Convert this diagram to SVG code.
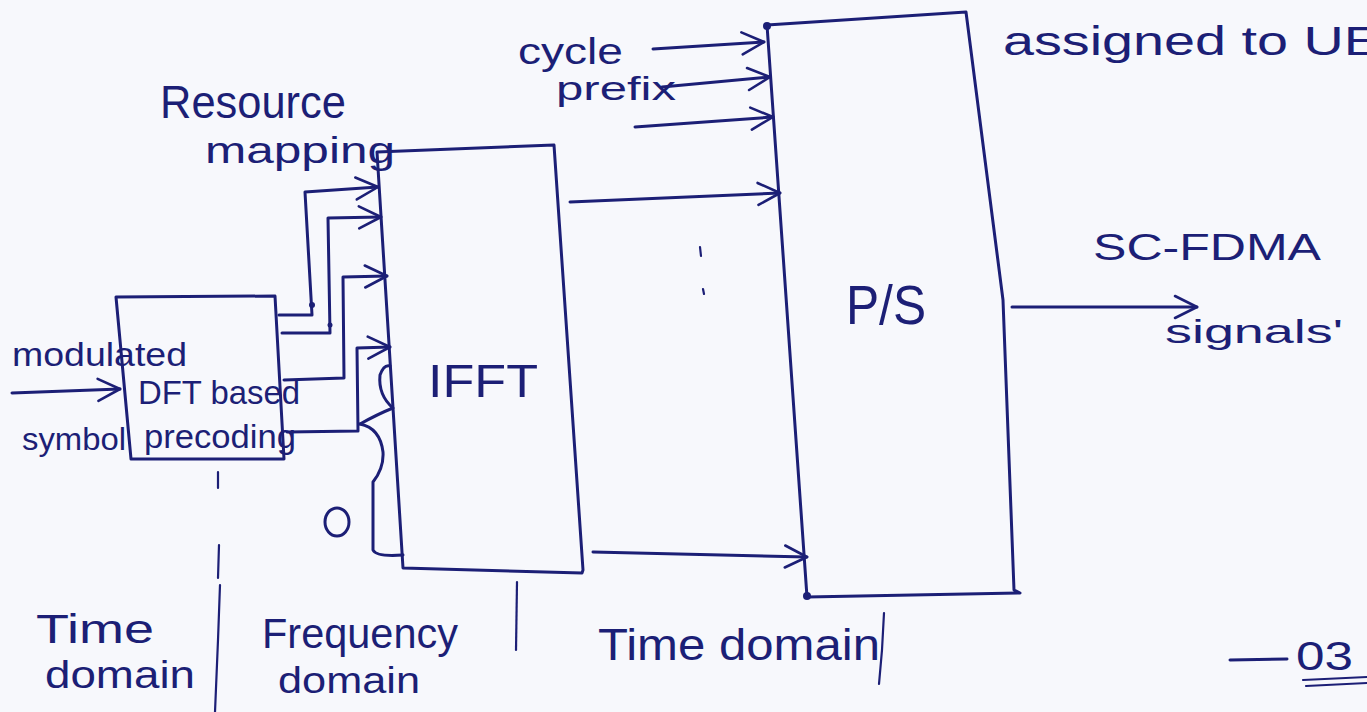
<svg xmlns="http://www.w3.org/2000/svg" width="1367" height="712" viewBox="0 0 1367 712">
<defs>
<style>
.ink{fill:none;stroke:#1c1f76;stroke-width:3;stroke-linecap:round;stroke-linejoin:round}
.thin{fill:none;stroke:#1c1f76;stroke-width:2.2;stroke-linecap:round}
.dot{fill:#1c1f76}
.t{fill:#1c1f76;font-family:"Liberation Sans","DejaVu Sans",sans-serif}
</style>
<marker id="arr" markerUnits="userSpaceOnUse" markerWidth="30" markerHeight="30" viewBox="0 0 30 30" refX="26" refY="15" orient="auto">
<path d="M4,4 L26,15 L4,26" fill="none" stroke="#1c1f76" stroke-width="2.6" stroke-linecap="round" stroke-linejoin="round"/>
</marker>
</defs>
<rect width="1367" height="712" fill="#f7f8fc"/>

<g id="dft">
<path class="ink" d="M116,297 L275,296 L284,459 L131,459 Z"/>
<text class="t" x="138" y="404" font-size="34" textLength="162" lengthAdjust="spacingAndGlyphs">DFT based</text>
<text class="t" x="144" y="448" font-size="33" textLength="152" lengthAdjust="spacingAndGlyphs">precoding</text>
</g>

<g id="ifft">
<path class="ink" d="M377,152 L554,145 L583,570 L582,573 L403,568 Z"/>
<text class="t" x="428" y="397" font-size="46" textLength="110" lengthAdjust="spacingAndGlyphs">IFFT</text>
</g>

<g id="ps">
<path class="ink" d="M767,25 L966,12 L1003,300 L1014,590 L1020,593 L807,597 Z"/>
<text class="t" x="846" y="324" font-size="56" textLength="80" lengthAdjust="spacingAndGlyphs">P/S</text>
</g>

<g id="labels">
<text class="t" x="160" y="118" font-size="46" textLength="186" lengthAdjust="spacingAndGlyphs">Resource</text>
<text class="t" x="205" y="163" font-size="36" textLength="190" lengthAdjust="spacingAndGlyphs">mapping</text>
<text class="t" x="518" y="64" font-size="36" textLength="105" lengthAdjust="spacingAndGlyphs">cycle</text>
<text class="t" x="556" y="100" font-size="34" textLength="120" lengthAdjust="spacingAndGlyphs">prefix</text>
<text class="t" x="1003" y="55" font-size="40" textLength="378" lengthAdjust="spacingAndGlyphs">assigned to UE</text>
<text class="t" x="1093" y="260" font-size="36" textLength="228" lengthAdjust="spacingAndGlyphs">SC-FDMA</text>
<text class="t" x="1165" y="343" font-size="34" textLength="178" lengthAdjust="spacingAndGlyphs">signals'</text>
<text class="t" x="12" y="366" font-size="34" textLength="175" lengthAdjust="spacingAndGlyphs">modulated</text>
<text class="t" x="22" y="450" font-size="32" textLength="104" lengthAdjust="spacingAndGlyphs">symbol</text>
<text class="t" x="36" y="643" font-size="40" textLength="118" lengthAdjust="spacingAndGlyphs">Time</text>
<text class="t" x="45" y="688" font-size="38" textLength="150" lengthAdjust="spacingAndGlyphs">domain</text>
<text class="t" x="262" y="648" font-size="42" textLength="196" lengthAdjust="spacingAndGlyphs">Frequency</text>
<text class="t" x="278" y="693" font-size="36" textLength="142" lengthAdjust="spacingAndGlyphs">domain</text>
<text class="t" x="598" y="660" font-size="44" textLength="282" lengthAdjust="spacingAndGlyphs">Time domain</text>
<text class="t" x="1296" y="670" font-size="40" textLength="57" lengthAdjust="spacingAndGlyphs">03</text>
<ellipse class="ink" cx="337" cy="522" rx="12" ry="14"/>
</g>

<g id="connectors">
<path class="ink" d="M12,393 L120,389" marker-end="url(#arr)"/>
<path class="ink" d="M279,315 L312,315 L305,192 L378,187" marker-end="url(#arr)"/>
<path class="ink" d="M282,333 L330,333 L328,218 L381,217" marker-end="url(#arr)"/>
<path class="ink" d="M284,380 L344,378 L343,277 L387,276" marker-end="url(#arr)"/>
<path class="ink" d="M287,432 L358,431 L357,348 L390,347" marker-end="url(#arr)"/>
<path class="ink" d="M360,424 Q378,414 393,408 Q378,395 380,375 Q384,364 390,366"/>
<path class="ink" d="M360,424 Q380,428 383,452 Q384,468 373,482 L373,550 Q376,557 403,555"/>
<path class="ink" d="M653,49 L764,42" marker-end="url(#arr)"/>
<path class="ink" d="M662,87 L770,77" marker-end="url(#arr)"/>
<path class="ink" d="M635,127 L773,117" marker-end="url(#arr)"/>
<path class="ink" d="M570,202 L780,193" marker-end="url(#arr)"/>
<path class="ink" d="M593,552 L807,557" marker-end="url(#arr)"/>
<path class="ink" d="M1012,307 L1197,307" marker-end="url(#arr)"/>
<circle class="dot" cx="767" cy="26" r="4"/>
<circle class="dot" cx="807" cy="596" r="4"/>
<circle class="dot" cx="312" cy="305" r="3"/>
<circle class="dot" cx="330" cy="325" r="2.5"/>
<path class="thin" d="M700,247 L701,256 M703,289 L704,294"/>
<path class="thin" d="M218,472 L218,488 M219,545 L218,578 M220,585 L218,640 L215,712"/>
<path class="thin" d="M517,582 L516,650"/>
<path class="thin" d="M884,613 L882,650 L879,684"/>
<path class="ink" d="M1230,660 L1287,659"/>
<path class="thin" d="M1303,680 L1367,677 M1306,686 L1367,683"/>
</g>
</svg>
